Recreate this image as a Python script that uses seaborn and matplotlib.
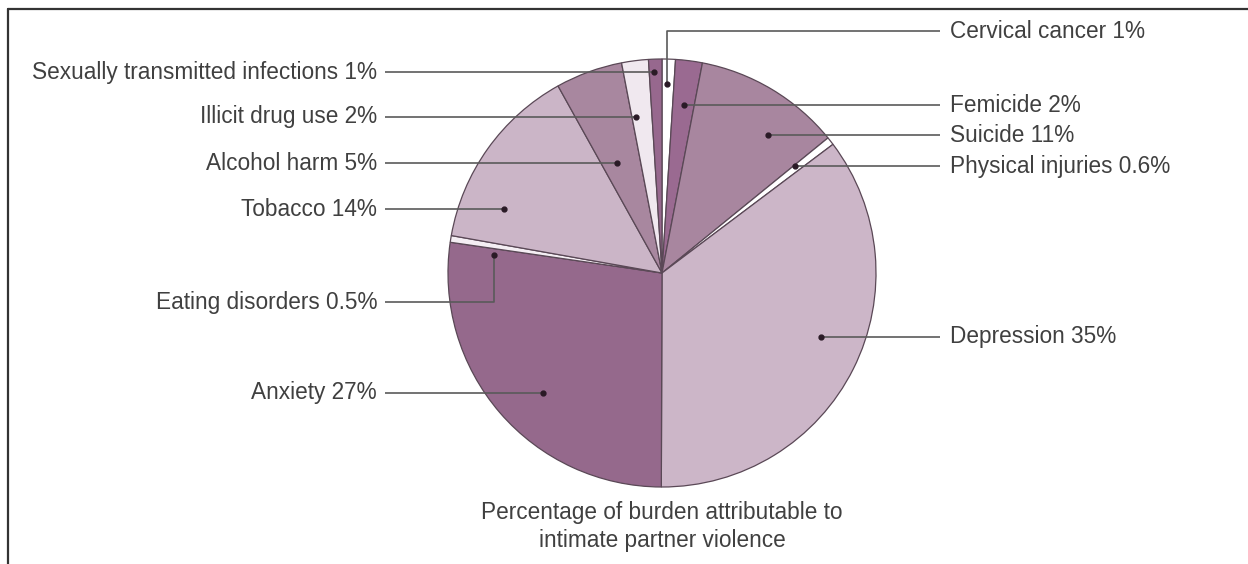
import matplotlib
matplotlib.use("Agg")
import matplotlib.pyplot as plt
import seaborn as sns

sns.set_theme(style="white")
plt.rcParams['font.family'] = ['Liberation Sans', 'DejaVu Sans']

# ---- data (clockwise from 12 o'clock) ----
categories = ["Cervical cancer", "Femicide", "Suicide", "Physical injuries",
              "Depression", "Anxiety", "Eating disorders", "Tobacco",
              "Alcohol harm", "Illicit drug use", "Sexually transmitted infections"]
values = [1, 2, 11, 0.6, 35, 27, 0.5, 14, 5, 2, 1]
value_labels = ["1%", "2%", "11%", "0.6%", "35%", "27%", "0.5%", "14%", "5%", "2%", "1%"]
colors = ["#ffffff", "#9a6a91", "#a8869f", "#ffffff", "#ccb6c8", "#95698c",
          "#f4eef3", "#cbb5c7", "#a8879f", "#f0e8ef", "#97688e"]
title_lines = ["Percentage of burden attributable to", "intimate partner violence"]

W, H = 1248, 564
fig = plt.figure(figsize=(W / 100, H / 100), dpi=100)
ax = fig.add_axes([0, 0, 1, 1])


def Y(p):
    return H - p


cx, cy, r = 662, Y(273), 214
ax.pie(values, colors=colors, startangle=90, counterclock=False,
       center=(cx, cy), radius=r, frame=True,
       wedgeprops=dict(edgecolor="#5a4856", linewidth=0.9))
ax.set_xlim(0, W)
ax.set_ylim(0, H)
ax.set_aspect('equal')
ax.axis('off')

FS = 16.3
line_kw = dict(color="#5a5a5a", linewidth=1.2, solid_capstyle='butt')
txt_kw = dict(fontsize=FS, color="#404040", va='center')

# layout for leader lines: (label y, dot x, dot y, side)
layout = {
    "Cervical cancer": (31, 667, 84, 'R'),
    "Femicide": (105, 684, 105, 'R'),
    "Suicide": (135, 768, 135, 'R'),
    "Physical injuries": (166, 795, 166, 'R'),
    "Depression": (337, 821, 337, 'R'),
    "Anxiety": (393, 543, 393, 'L'),
    "Eating disorders": (302, 494, 255, 'L'),
    "Tobacco": (209, 504, 209, 'L'),
    "Alcohol harm": (163, 617, 163, 'L'),
    "Illicit drug use": (117, 636, 117, 'L'),
    "Sexually transmitted infections": (72, 654, 72, 'L'),
}

for cat, vl in zip(categories, value_labels):
    ly, dx, dy, side = layout[cat]
    if side == 'R':
        xs = [940, dx, dx]
        ys = [Y(ly), Y(ly), Y(dy)]
        ax.text(950, Y(ly), f"{cat} {vl}", ha='left', **txt_kw)
    else:
        xs = [385, dx, dx]
        ys = [Y(ly), Y(ly), Y(dy)]
        ax.text(377, Y(ly), f"{cat} {vl}", ha='right', **txt_kw)
    ax.plot(xs, ys, **line_kw)
    ax.plot([dx], [Y(dy)], 'o', color="#2a1a26", markersize=3.5)

for i, tl in enumerate(title_lines):
    ax.text(662, Y(512 + 28 * i), tl, ha='center', va='center', fontsize=FS,
            color="#404040")

# frame (top and left edges visible)
ax.plot([8, W], [Y(9), Y(9)], color="#333333", linewidth=1.6)
ax.plot([8, 8], [Y(9), 0], color="#333333", linewidth=1.6)

fig.savefig("out.png", dpi=100, facecolor="white")
